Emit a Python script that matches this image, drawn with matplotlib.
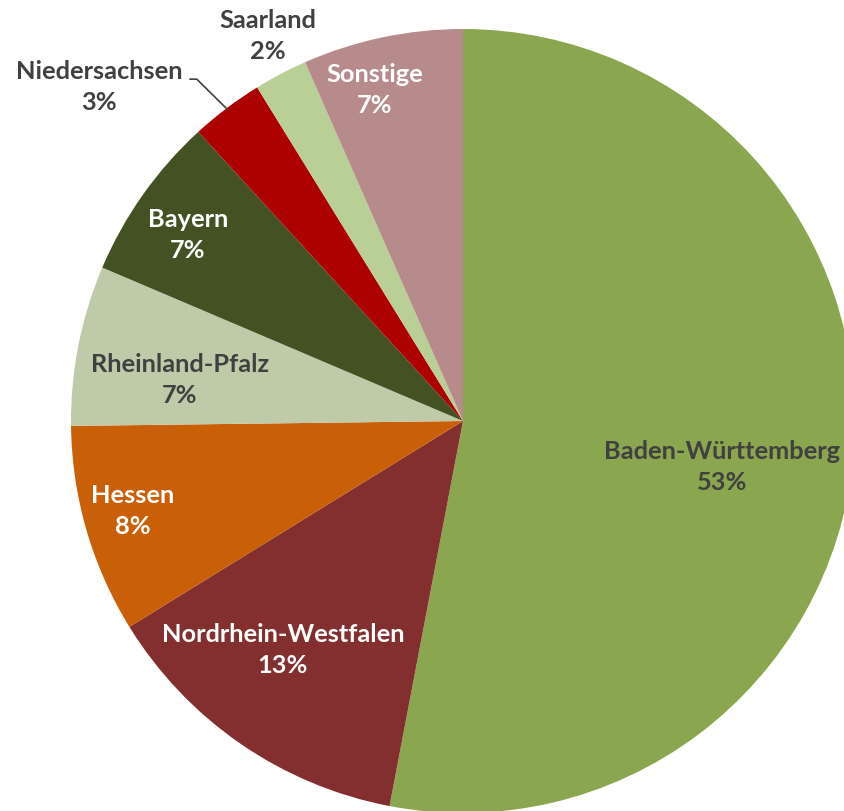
import numpy as np
import matplotlib
matplotlib.use("Agg")
from matplotlib import pyplot as plt

# slices, clockwise from 12 o'clock
states = ['Baden-Württemberg', 'Nordrhein-Westfalen', 'Hessen', 'Rheinland-Pfalz',
          'Bayern', 'Niedersachsen', 'Saarland', 'Sonstige']
shares = [53.0, 13.2, 8.6, 6.6, 6.8, 3.0, 2.2, 6.6]
pct_labels = ['53%', '13%', '8%', '7%', '7%', '3%', '2%', '7%']

colors = ['#8aa64f', '#832f2f', '#c95f06', '#bfcaa8', '#445123', '#ad0000', '#b8cf96', '#b78b8b']
txt_colors = ['#404040', 'white', 'white', '#404040', 'white', '#404040', '#404040', 'white']
# label placement (radius, angle in deg) relative to pie centre
lab_pos = [(0.67, -10.0), (0.743, 231.8), (0.873, 195.3), (0.73, 171.8),
           (0.847, 145.9), (1.26, 137.5), (1.10, 116.9), (0.874, 104.9)]

plt.rcParams['font.family'] = ['Lato', 'DejaVu Sans']

fig = plt.figure(figsize=(8.45, 8.11), dpi=100)
ax = fig.add_axes([0, 0, 1, 1])
wedges, _ = ax.pie(shares, colors=colors, startangle=90, counterclock=False,
                   radius=1.0, wedgeprops=dict(linewidth=0))

for i, name in enumerate(states):
    r, a = lab_pos[i]
    x = r * np.cos(np.radians(a))
    y = r * np.sin(np.radians(a))
    ax.text(x, y, name + '\n' + pct_labels[i], ha='center', va='center',
            color=txt_colors[i], fontsize=18.3, fontweight='bold', linespacing=1.42)

# leader line for Niedersachsen
w = wedges[5]
mid = np.radians((w.theta1 + w.theta2) / 2)
ex, ey = 0.995 * np.cos(mid), 0.995 * np.sin(mid)
ax.plot([-0.696, -0.679, ex], [0.872, 0.872, ey], color='#404040', lw=1.2)

ax.set_xlim(-463 / 392, (845 - 463) / 392)
ax.set_ylim((421 - 811) / 392, 421 / 392)
ax.set_aspect('equal')
ax.axis('off')
fig.savefig('out.png', dpi=100)
